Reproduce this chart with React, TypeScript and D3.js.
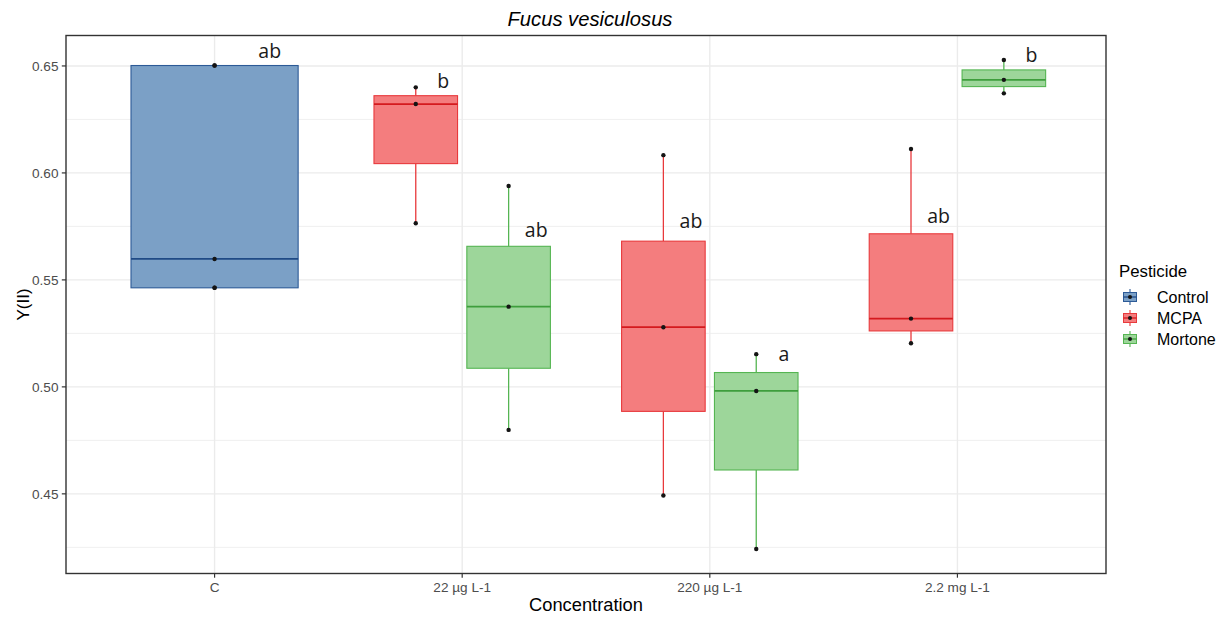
import React from "react";
import * as d3 from "d3";

const categories = ["C", "22 µg L-1", "220 µg L-1", "2.2 mg L-1"];
const pesticides = ["Control", "MCPA", "Mortone"];

// raw observations per group (category index, pesticide, values)
const controlC = [0.5463, 0.5463, 0.5598, 0.6502, 0.6502];
const mcpa22 = [0.5765, 0.6322, 0.64];
const mortone22 = [0.4799, 0.5375, 0.5939];
const mcpa220 = [0.4492, 0.5279, 0.6083];
const mortone220 = [0.4242, 0.4981, 0.5153];
const mcpa2mg = [0.5204, 0.5319, 0.6112];
const mortone2mg = [0.6372, 0.6435, 0.6528];

const groupCategory = [0, 1, 1, 2, 2, 3, 3];
const groupPesticide = ["Control", "MCPA", "Mortone", "MCPA", "Mortone", "MCPA", "Mortone"];
const groupValues = [controlC, mcpa22, mortone22, mcpa220, mortone220, mcpa2mg, mortone2mg];

// significance letters
const letters = ["ab", "b", "ab", "ab", "a", "ab", "b"];
const letterY = [0.6537, 0.6397, 0.5701, 0.5743, 0.5122, 0.5766, 0.6519];

const yTicks = [0.45, 0.5, 0.55, 0.6, 0.65];
const yMinor = [0.425, 0.475, 0.525, 0.575, 0.625];

const lineColor: Record<string, string> = {
  Control: "#2C5A97",
  MCPA: "#E8393C",
  Mortone: "#55B552",
};
const fillColor: Record<string, string> = {
  Control: "#7BA0C6",
  MCPA: "#F47D7E",
  Mortone: "#9DD69A",
};
const medianColor: Record<string, string> = {
  Control: "#1F4A85",
  MCPA: "#D41A1E",
  Mortone: "#3E9E3C",
};

const W = 1228;
const H = 617;
const P = { left: 66, right: 1106, top: 35.5, bottom: 573.5 };
const sans = "'Liberation Sans', Arial, sans-serif";

function stats(v: number[]) {
  const s = [...v].sort((a, b) => a - b);
  const q1 = d3.quantile(s, 0.25)!;
  const med = d3.quantile(s, 0.5)!;
  const q3 = d3.quantile(s, 0.75)!;
  const iqr = q3 - q1;
  const lo = d3.min(s.filter((x) => x >= q1 - 1.5 * iqr))!;
  const hi = d3.max(s.filter((x) => x <= q3 + 1.5 * iqr))!;
  return { q1, med, q3, lo, hi };
}

export default function App() {
  const all = groupValues.flat();
  const mn = d3.min(all)!;
  const mx = d3.max(all)!;
  const r = mx - mn;
  const y = d3.scaleLinear().domain([mn - 0.05 * r, mx + 0.05 * r]).range([P.bottom, P.top]);
  const x = d3.scaleLinear().domain([-0.6, categories.length - 1 + 0.6]).range([P.left, P.right]);

  const dodgeWidth = 0.75;
  const boxes = groupValues.map((vals, i) => {
    const cat = groupCategory[i];
    const members = groupPesticide.filter((_, j) => groupCategory[j] === cat);
    const n = members.length;
    const k = groupCategory.slice(0, i).filter((c) => c === cat).length;
    const slot = dodgeWidth / n;
    const center = cat - dodgeWidth / 2 + slot * (k + 0.5);
    const bw = slot * 0.9;
    return { i, cat, pest: groupPesticide[i], vals, center, bw, s: stats(vals) };
  });

  const legendX = 1119;
  const legendTitleY = 277;
  const legendRowY = [297, 318, 339];

  return (
    <svg width={W} height={H} style={{ position: "absolute", left: 0, top: 0, background: "#fff" }}>
      <rect x={0} y={0} width={W} height={H} fill="#fff" />
      {/* grid */}
      {yMinor.map((t) => (
        <line key={"mi" + t} x1={P.left} x2={P.right} y1={y(t)} y2={y(t)} stroke="#EBEBEB" strokeWidth={0.8} />
      ))}
      {yTicks.map((t) => (
        <line key={"ma" + t} x1={P.left} x2={P.right} y1={y(t)} y2={y(t)} stroke="#EBEBEB" strokeWidth={1.4} />
      ))}
      {categories.map((c, i) => (
        <line key={"vx" + c} x1={x(i)} x2={x(i)} y1={P.top} y2={P.bottom} stroke="#EBEBEB" strokeWidth={1.4} />
      ))}
      {/* boxes */}
      {boxes.map((b) => {
        const cx = x(b.center);
        const x0 = x(b.center - b.bw / 2);
        const x1 = x(b.center + b.bw / 2);
        const col = lineColor[b.pest];
        return (
          <g key={"b" + b.i}>
            <line x1={cx} x2={cx} y1={y(b.s.hi)} y2={y(b.s.q3)} stroke={col} strokeWidth={1.3} />
            <line x1={cx} x2={cx} y1={y(b.s.q1)} y2={y(b.s.lo)} stroke={col} strokeWidth={1.3} />
            <rect
              x={x0}
              y={y(b.s.q3)}
              width={x1 - x0}
              height={y(b.s.q1) - y(b.s.q3)}
              fill={fillColor[b.pest]}
              stroke={col}
              strokeWidth={1.1}
            />
            <line x1={x0} x2={x1} y1={y(b.s.med)} y2={y(b.s.med)} stroke={medianColor[b.pest]} strokeWidth={1.8} />
            {b.vals.map((v, j) => (
              <circle key={j} cx={cx} cy={y(v)} r={2.2} fill="#141414" />
            ))}
            <text
              x={x(b.center + b.bw * 0.33)}
              y={y(letterY[b.i])}
              textAnchor="middle"
              fontFamily="'Open Sans', 'Noto Sans', sans-serif"
              fontSize={19.5}
              fill="#1a1a1a"
            >
              {letters[b.i]}
            </text>
          </g>
        );
      })}
      {/* panel border */}
      <rect x={P.left} y={P.top} width={P.right - P.left} height={P.bottom - P.top} fill="none" stroke="#333333" strokeWidth={1.4} />
      {/* y axis */}
      {yTicks.map((t) => (
        <g key={"yt" + t}>
          <line x1={P.left - 4.2} x2={P.left} y1={y(t)} y2={y(t)} stroke="#333333" strokeWidth={1.2} />
          <text x={P.left - 7.5} y={y(t)} dy="0.35em" textAnchor="end" fontFamily={sans} fontSize={13.6} fill="#4D4D4D">
            {t.toFixed(2)}
          </text>
        </g>
      ))}
      {/* x axis */}
      {categories.map((c, i) => (
        <g key={"xt" + c}>
          <line x1={x(i)} x2={x(i)} y1={P.bottom} y2={P.bottom + 4.2} stroke="#333333" strokeWidth={1.2} />
          <text x={x(i)} y={592} textAnchor="middle" fontFamily={sans} fontSize={13.6} fill="#4D4D4D">
            {c}
          </text>
        </g>
      ))}
      <text x={(P.left + P.right) / 2} y={611} textAnchor="middle" fontFamily={sans} fontSize={18.3} fill="#000">
        Concentration
      </text>
      <text
        transform={`translate(29, ${(P.top + P.bottom) / 2}) rotate(-90)`}
        textAnchor="middle"
        fontFamily={sans}
        fontSize={17}
        fill="#000"
      >
        Y(II)
      </text>
      <text x={(P.left + P.right) / 2 + 4} y={26} textAnchor="middle" fontFamily={sans} fontStyle="italic" fontSize={20.2} fill="#000">
        Fucus vesiculosus
      </text>
      {/* legend */}
      <text x={legendX} y={legendTitleY} fontFamily={sans} fontSize={16.8} fill="#000">
        Pesticide
      </text>
      {pesticides.map((p, i) => {
        const cy = legendRowY[i];
        const kx = legendX + 11;
        return (
          <g key={"lg" + p}>
            <line x1={kx} x2={kx} y1={cy - 8} y2={cy + 8} stroke={lineColor[p]} strokeWidth={1.1} />
            <rect x={kx - 6.5} y={cy - 4.5} width={13} height={9} fill={fillColor[p]} stroke={lineColor[p]} strokeWidth={1} />
            <line x1={kx - 6.5} x2={kx + 6.5} y1={cy} y2={cy} stroke={medianColor[p]} strokeWidth={1.3} />
            <circle cx={kx} cy={cy} r={2} fill="#141414" />
            <text x={legendX + 38} y={cy} dy="0.35em" fontFamily={sans} fontSize={16} fill="#000">
              {p}
            </text>
          </g>
        );
      })}
    </svg>
  );
}
